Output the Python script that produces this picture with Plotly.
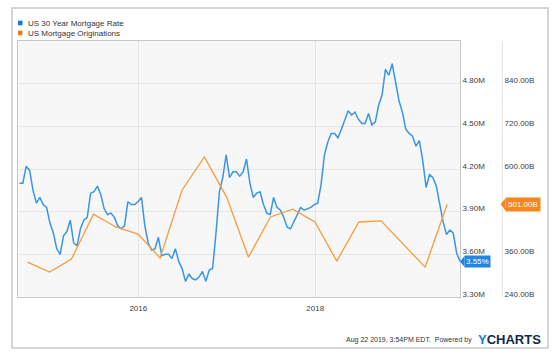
import plotly.graph_objects as go
import pandas as pd

# ---------------- data ----------------
rate_name = "US 30 Year Mortgage Rate"
orig_name = "US Mortgage Originations"

# bi-weekly readings of the 30 year mortgage rate (%), ending Aug 22 2019
rate_values = [
    4.10, 4.10, 4.22, 4.19, 4.05, 3.96, 4.00, 3.95, 3.93, 3.82,
    3.75, 3.64, 3.60, 3.73, 3.76, 3.84, 3.68, 3.66, 3.78, 3.84,
    3.86, 4.03, 4.04, 4.08, 4.02, 3.92, 3.88, 3.89, 3.86, 3.80,
    3.78, 3.80, 3.97, 3.95, 3.95, 3.97, 4.00, 3.80, 3.68, 3.63,
    3.64, 3.72, 3.59, 3.60, 3.60, 3.57, 3.64, 3.55, 3.50, 3.41,
    3.46, 3.43, 3.42, 3.44, 3.48, 3.41, 3.49, 3.50, 3.75, 4.04,
    4.14, 4.30, 4.14, 4.18, 4.18, 4.15, 4.18, 4.27, 4.10, 4.00,
    4.03, 4.04, 3.95, 3.89, 3.88, 4.00, 3.93, 3.91, 3.86, 3.79,
    3.78, 3.83, 3.89, 3.93, 3.91, 3.92, 3.93, 3.95, 3.96, 4.09,
    4.30, 4.39, 4.45, 4.45, 4.42, 4.48, 4.55, 4.61, 4.58, 4.60,
    4.55, 4.52, 4.52, 4.59, 4.51, 4.53, 4.65, 4.72, 4.90, 4.86,
    4.94, 4.80, 4.68, 4.60, 4.48, 4.45, 4.43, 4.36, 4.40, 4.26,
    4.07, 4.16, 4.14, 4.08, 3.95, 3.83, 3.74, 3.77, 3.75, 3.61,
    3.55,
]
rate_dates = pd.date_range(end="2019-08-22", periods=len(rate_values), freq="14D")

# quarterly mortgage originations (billions USD)
orig_dates = [
    "2014-09-30", "2014-12-31", "2015-03-31", "2015-06-30", "2015-09-30",
    "2015-12-31", "2016-03-31", "2016-06-30", "2016-09-30", "2016-12-31",
    "2017-03-31", "2017-06-30", "2017-09-30", "2017-12-31", "2018-03-31",
    "2018-06-30", "2018-09-30", "2018-12-31", "2019-03-31", "2019-06-30",
]
orig_values = [338, 310, 347, 473, 437, 417, 350, 541, 634, 521,
               352, 465, 487, 451, 341, 451, 454, 389, 324, 501]

rate_ticks = [3.30, 3.60, 3.90, 4.20, 4.50, 4.80]
orig_ticks = [240, 360, 480, 600, 720, 840]
x_ticks = ["2016-01-01", "2018-01-01"]
footer_text = "Aug 22 2019, 3:54PM EDT.  Powered by "

# ---------------- styling ----------------
W, H = 560, 357
ML, MR, MT, MB = 18, 12, 41, 60
PW, PH = W - ML - MR, H - MT - MB

def px(x):
    return (x - ML) / PW

def py(y):
    return (H - MB - y) / PH

BLUE = "#3896e8"
ORANGE = "#f89b3d"
TAG_BLUE = "#1f86e6"
TAG_ORANGE = "#f7861f"
FONT = "Liberation Sans, Arial, sans-serif"
TXT = "#404040"

rate_range = [3.30, 5.10]
orig_range = [240, 960]

fig = go.Figure()
fig.add_trace(go.Scatter(x=rate_dates, y=rate_values, mode="lines", name=rate_name,
                         line=dict(color=BLUE, width=1.5), yaxis="y", showlegend=False))
fig.add_trace(go.Scatter(x=orig_dates, y=orig_values, mode="lines", name=orig_name,
                         line=dict(color=ORANGE, width=1.3), yaxis="y2", showlegend=False))

fig.update_layout(
    width=W, height=H, autosize=False,
    margin=dict(l=ML, r=MR, t=MT, b=MB, pad=0),
    paper_bgcolor="white", plot_bgcolor="#f7f7f7",
    font=dict(family=FONT, size=8, color=TXT),
    xaxis=dict(domain=[0, px(460)], type="date",
               range=["2014-08-22", "2019-08-22"],
               tickvals=x_ticks, tickformat="%Y",
               showgrid=True, gridcolor="#e6e6e6", gridwidth=1,
               showline=True, linecolor="#c8c8c8", linewidth=1, mirror=True,
               ticks="", tickfont=dict(size=8, color=TXT), ticklabelstandoff=3,
               zeroline=False),
    yaxis=dict(range=rate_range, side="right",
               tickvals=rate_ticks, ticktext=[f"{v:.2f}M" for v in rate_ticks],
               showgrid=True, gridcolor="#e6e6e6", gridwidth=1,
               showline=True, linecolor="#c8c8c8", linewidth=1, mirror=True,
               ticks="", tickfont=dict(size=8, color=TXT), ticklabelshift=-3,
               zeroline=False),
    yaxis2=dict(range=orig_range, overlaying="y", side="right", anchor="free",
                position=px(502),
                tickvals=orig_ticks, ticktext=[f"{v:.2f}B" for v in orig_ticks],
                showgrid=False, showline=True, linecolor="#e4e4e4", linewidth=1,
                ticks="", tickfont=dict(size=8, color=TXT), ticklabelshift=-3,
                zeroline=False),
)

shapes = []
annotations = []

# outer frame
shapes.append(dict(type="rect", xref="paper", yref="paper",
                   x0=px(12), x1=px(548), y0=py(348), y1=py(8),
                   line=dict(color="#c9c9c9", width=1.5), layer="below"))

# legend
for i, (name, col) in enumerate([(rate_name, "#1577e0"), (orig_name, "#f57c12")]):
    cy = 23 + 10 * i
    shapes.append(dict(type="rect", xref="paper", yref="paper",
                       x0=px(18), x1=px(22.5), y0=py(cy + 2.3), y1=py(cy - 2.3),
                       fillcolor=col, line=dict(width=0)))
    annotations.append(dict(xref="paper", yref="paper", x=px(25.5), y=py(cy),
                            xanchor="left", yanchor="middle", showarrow=False,
                            text=name, font=dict(size=8, color="#333333")))

# last-value tags
last_rate = rate_values[-1]
last_orig = orig_values[-1]

def to_py_rate(v):
    return (v - rate_range[0]) / (rate_range[1] - rate_range[0])

def to_py_orig(v):
    return (v - orig_range[0]) / (orig_range[1] - orig_range[0])

annotations.append(dict(xref="paper", yref="y", x=px(464), y=last_rate,
                        xanchor="left", yanchor="middle", showarrow=False,
                        text=f"{last_rate:.2f}%", bgcolor=TAG_BLUE, borderpad=1,
                        font=dict(size=8, color="white")))
yr = to_py_rate(last_rate)
shapes.append(dict(type="path", xref="paper", yref="paper",
                   path=f"M {px(460)} {yr} L {px(464.5)} {yr + 5.5/PH} L {px(464.5)} {yr - 5.5/PH} Z",
                   fillcolor=TAG_BLUE, line=dict(width=0), layer="above"))

annotations.append(dict(xref="paper", yref="y2", x=px(505), y=last_orig,
                        xanchor="left", yanchor="middle", showarrow=False,
                        text=f"{last_orig:.2f}B", bgcolor=TAG_ORANGE, borderpad=2,
                        font=dict(size=8, color="white")))
yo = to_py_orig(last_orig)
shapes.append(dict(type="path", xref="paper", yref="paper",
                   path=f"M {px(500.5)} {yo} L {px(505.5)} {yo + 6/PH} L {px(505.5)} {yo - 6/PH} Z",
                   fillcolor=TAG_ORANGE, line=dict(width=0), layer="above"))

# footer
annotations.append(dict(xref="paper", yref="paper", x=px(476), y=py(340),
                        xanchor="right", yanchor="middle", showarrow=False,
                        text=footer_text, font=dict(size=7, color="#333333")))
annotations.append(dict(xref="paper", yref="paper", x=px(476), y=py(339),
                        xanchor="left", yanchor="middle", showarrow=False,
                        text="<b><span style='color:#1a7be0'>Y</span>CHARTS</b>",
                        font=dict(size=13, color="#13294b")))

fig.update_layout(shapes=shapes, annotations=annotations)

fig.write_html("out.html", config={"displayModeBar": False},
               post_script="document.body.style.margin='0';")
